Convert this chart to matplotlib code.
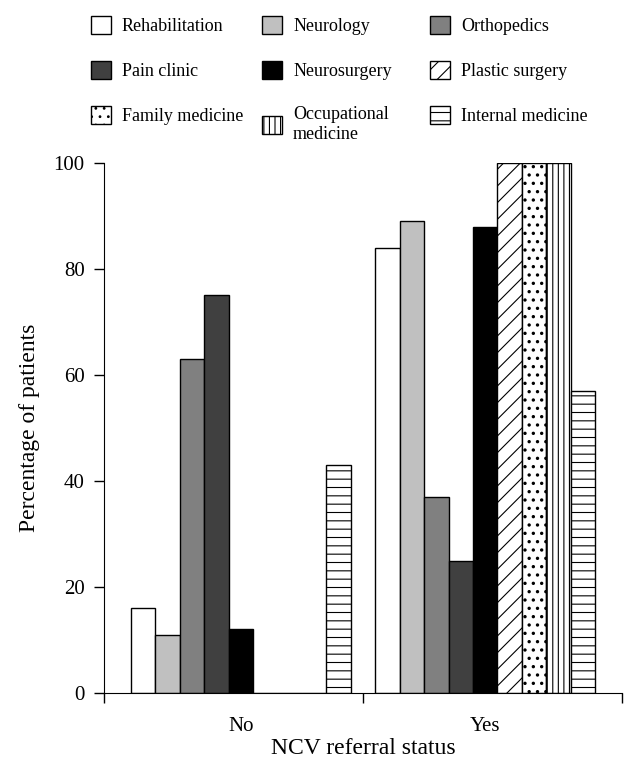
import numpy as np
import matplotlib.pyplot as plt
from matplotlib.patches import Patch

plt.rcParams['font.family'] = ['Liberation Serif', 'DejaVu Serif']
plt.rcParams['hatch.linewidth'] = 0.8

groups = ["No", "Yes"]
specialties = ["Rehabilitation", "Neurology", "Orthopedics", "Pain clinic", "Neurosurgery",
               "Plastic surgery", "Family medicine", "Occupational\nmedicine", "Internal medicine"]
no_vals = [16, 11, 63, 75, 12, 0, 0, 0, 43]
yes_vals = [84, 89, 37, 25, 88, 100, 100, 100, 57]

colors = ["white", "#c0c0c0", "#808080", "#404040", "black", "white", "white", "white", "white"]
hatches = [None, None, None, None, None, "//", "..", "|||", "--"]
hatch_lw = [0.8, 0.8, 0.8, 0.8, 0.8, 0.8, 1.2, 0.8, 0.8]

fig = plt.figure(figsize=(6.36, 7.63), dpi=100)
ax = fig.add_axes([0.1635, 0.0917, 0.8145, 0.6947])

width = 0.1
x = np.arange(len(groups))
handles = []
for i, name in enumerate(specialties):
    vals = [no_vals[i], yes_vals[i]]
    pos = x - 0.4 + i * width
    with plt.rc_context({'hatch.linewidth': hatch_lw[i]}):
        ax.bar(pos, vals, width, color=colors[i], hatch=hatches[i], edgecolor="black", linewidth=1)
        handles.append(Patch(facecolor=colors[i], hatch=hatches[i], edgecolor="black", label=name))

ax.set_xlim(-0.56, 1.56)
ax.set_ylim(0, 100)
ax.set_yticks([0, 20, 40, 60, 80, 100])
ax.set_xticks([-0.56, 0.5, 1.56])
ax.set_xticklabels([])
ax.tick_params(axis='x', direction='out', length=7, width=1)
for xi, g in zip(x, groups):
    ax.text(xi, -4.6, g, ha='center', va='top', fontsize=15)
ax.spines['top'].set_visible(False)
ax.spines['right'].set_visible(False)
ax.tick_params(axis='y', labelsize=15, length=7, width=1, pad=7)
ax.set_ylabel("Percentage of patients", fontsize=17, labelpad=10)
ax.set_xlabel("NCV referral status", fontsize=17, labelpad=22)

# one legend per column so the columns sit where the reference has them
col_x = [0.118, 0.387, 0.651]
for c in range(3):
    idx = [c, c + 3, c + 6]
    leg = fig.legend([handles[k] for k in idx], [specialties[k] for k in idx],
                     loc='upper left', bbox_to_anchor=(col_x[c], 1.0), frameon=False,
                     fontsize=13, handlelength=1.1, handleheight=1.1, handletextpad=0.6,
                     labelspacing=1.45)

fig.savefig("out.png", dpi=100)
